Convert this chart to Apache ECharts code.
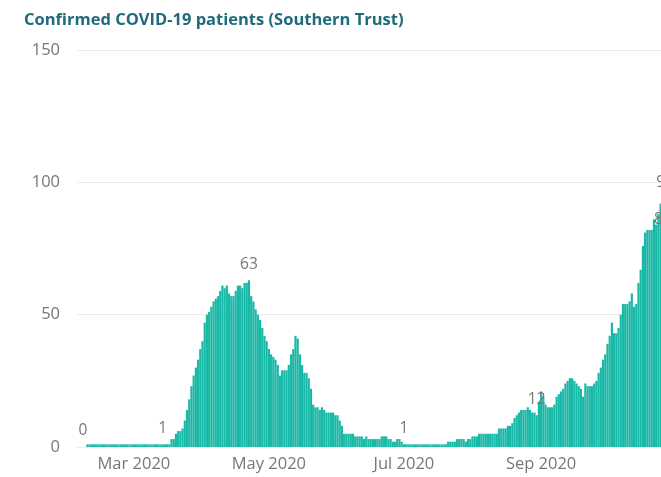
<!DOCTYPE html>
<html><head><meta charset="utf-8">
<script src="https://cdn.jsdelivr.net/npm/echarts@6/dist/echarts.min.js"></script>
<style>
html,body{margin:0;padding:0;overflow:hidden;background:#fff;width:661px;height:477px}
#c{width:700px;height:477px}
</style></head>
<body><div id="c"></div>
<script>
const titleText = 'Confirmed COVID-19 patients (Southern Trust)';
const startDate = '2020-02-07';
const values = [
  0,0,1,1,1,1,1,1,1,1, 1,1,1,1,1,1,1,1,1,1,
  1,1,1,1,1,1,1,1,1,1, 1,1,1,1,1,1,1,1,1,1,
  3,3,5,6,6,7,10,14,18,23, 27,30,33,37,40,47,50,51,53,55,
  56,57,59,61,60,61,58,57,57,59, 61,61,60,62,62,63,57,55,52,50,
  48,45,42,40,37,35,34,33,31,27, 29,29,29,31,35,37,42,41,35,31,
  28,28,26,22,16,15,15,14,15,14, 13,13,13,13,12,12,10,8,5,5,
  5,5,5,4,4,4,4,3,4,3, 3,3,3,3,3,4,4,4,3,3,
  2,2,3,3,2,1,1,1,1,1, 1,1,1,1,1,1,1,1,1,1,
  1,1,1,1,1,2,2,2,2,3, 3,3,3,2,3,3,4,4,4,5,
  5,5,5,5,5,5,5,5,7,7, 7,7,8,8,9,11,12,13,14,14,
  14,15,14,13,13,12,17,21,19,16, 15,15,15,16,19,20,21,22,24,25,
  26,26,25,24,23,22,19,24,23,23, 23,24,25,28,30,33,35,39,42,47,
  43,43,45,50,54,54,54,55,58,53, 54,62,67,76,81,82,82,82,86,84,
  88,92,80,94
];
const labelDates = ['2020-02-07','2020-03-14','2020-04-22','2020-07-01','2020-08-30','2020-10-26','2020-10-27'];
const yTicks = [0, 50, 100, 150];
const xTickDates = ['2020-03-01','2020-05-01','2020-07-01','2020-09-01'];
const monthNames = ['Jan','Feb','Mar','Apr','May','Jun','Jul','Aug','Sep','Oct','Nov','Dec'];

const DAY = 86400000;
function dayNum(s) { return Date.parse(s + 'T00:00:00Z') / DAY; }
const d0 = dayNum(startDate);
const data = values.map(function (v, i) {
  const d = d0 + i;
  const iso = new Date(d * DAY).toISOString().slice(0, 10);
  const item = { value: [d, v] };
  if (labelDates.indexOf(iso) >= 0) item.label = { show: true };
  return item;
});

const chartW = 700, gridLeft = 77, gridRight = 0;
const pxPerDay = 2.213;
const firstBarOffsetPx = 6;
const xMin = d0 - firstBarOffsetPx / pxPerDay;
const xMax = xMin + (chartW - gridLeft - gridRight) / pxPerDay;
const xTicks = xTickDates.map(dayNum);

const FONT = '"Open Sans", "Noto Sans", sans-serif';
const chart = echarts.init(document.getElementById('c'), null, { renderer: 'canvas' });
chart.setOption({
  animation: false,
  backgroundColor: '#ffffff',
  title: {
    text: titleText, left: 19, top: 7,
    textStyle: { color: '#1e6b7b', fontSize: 16.5, fontWeight: 'bold', fontFamily: FONT }
  },
  grid: { left: gridLeft, right: gridRight, top: 50, bottom: 30, containLabel: false },
  xAxis: {
    type: 'value', min: xMin, max: xMax,
    axisLine: { show: false }, axisTick: { show: false }, splitLine: { show: false },
    axisLabel: {
      customValues: xTicks,
      color: '#777777', fontSize: 16.5, fontFamily: FONT, margin: 9,
      formatter: function (v) { const d = new Date(Math.round(v) * DAY); return monthNames[d.getUTCMonth()] + ' ' + d.getUTCFullYear(); }
    }
  },
  yAxis: {
    type: 'value', min: yTicks[0], max: yTicks[yTicks.length - 1], interval: 50,
    axisLine: { show: false }, axisTick: { show: false },
    splitLine: { lineStyle: { color: '#ebebeb', width: 1 } },
    axisLabel: { color: '#777777', fontSize: 16.5, fontFamily: FONT, margin: 17 }
  },
  series: [{
    type: 'bar', data: data, barWidth: 2.2,
    itemStyle: { color: '#1ab9a7' },
    label: { show: false, position: 'top', distance: 8, color: '#777777', fontSize: 15.5, fontFamily: FONT },
    labelLayout: { hideOverlap: false }
  }]
});
</script></body></html>
